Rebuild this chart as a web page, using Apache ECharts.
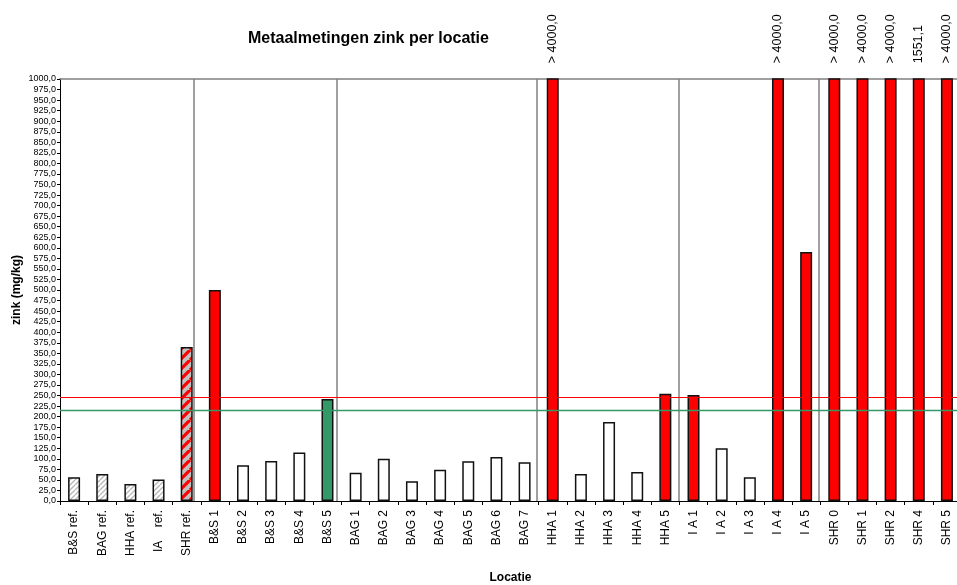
<!DOCTYPE html>
<html>
<head>
<meta charset="utf-8">
<script src="https://cdn.jsdelivr.net/npm/echarts@6/dist/echarts.min.js"></script>
<style>html,body{margin:0;padding:0;background:#fff}#c{width:957px;height:585px}</style>
</head>
<body>
<div id="c"></div>
<script>
// ---- data ----
const refCats = ['B&S ref.', 'BAG ref.', 'HHA ref.', 'IA    ref.', 'SHR ref.'];
const refVals = [56, 64, 40, 51, 365];
const bsCats = ['B&S 1', 'B&S 2', 'B&S 3', 'B&S 4', 'B&S 5'];
const bsVals = [500, 85, 95, 115, 242];
const bagCats = ['BAG 1', 'BAG 2', 'BAG 3', 'BAG 4', 'BAG 5', 'BAG 6', 'BAG 7'];
const bagVals = [67, 100, 47, 74, 94, 104, 92];
const hhaCats = ['HHA 1', 'HHA 2', 'HHA 3', 'HHA 4', 'HHA 5'];
const hhaVals = [4000, 64, 187, 69, 254];
const iaCats = ['I A 1', 'I A 2', 'I A 3', 'I A 4', 'I A 5'];
const iaVals = [251, 125, 56, 4000, 590];
const shrCats = ['SHR 0', 'SHR 1', 'SHR 2', 'SHR 4', 'SHR 5'];
const shrVals = [4000, 4000, 4000, 1551.1, 4000];
const redLimit = 245;
const greenLimit = 215;
const groupDividers = [4.76, 9.84, 16.94, 21.98, 26.95];
const yTickMax = 1000, yTickStep = 25;

const categories = [].concat(refCats, bsCats, bagCats, hhaCats, iaCats, shrCats);
const values = [].concat(refVals, bsVals, bagVals, hhaVals, iaVals, shrVals);

// ---- patterns ----
function hatch(bg, fg, size, lw) {
  const c = document.createElement('canvas');
  c.width = c.height = size;
  const ctx = c.getContext('2d');
  ctx.fillStyle = bg; ctx.fillRect(0, 0, size, size);
  ctx.strokeStyle = fg; ctx.lineWidth = lw;
  ctx.beginPath();
  [-size, 0, size].forEach(o => { ctx.moveTo(o, size); ctx.lineTo(o + size, 0); });
  ctx.stroke();
  return c;
}
const refPattern = { image: hatch('#ffffff', '#b8b8b8', 5, 1.4), repeat: 'repeat' };
const refExceedPattern = { image: hatch('#c0c0c0', '#ff0000', 10, 3.2), repeat: 'repeat' };

const fmt = v => v.toFixed(1).replace('.', ',');
const font = 'Liberation Sans, Arial, sans-serif';
const barData = values.map((v, i) => {
  const isRef = categories[i].indexOf('ref') >= 0;
  let color;
  if (isRef) color = v > redLimit ? refExceedPattern : refPattern;
  else color = v > redLimit ? '#ff0000' : (v > greenLimit ? '#339966' : '#ffffff');
  const item = { value: v, itemStyle: { color: color } };
  if (v > yTickMax) {
    item.label = {
      show: true, position: 'top', rotate: 90, align: 'left', verticalAlign: 'middle',
      distance: 15, fontSize: 12.5, color: '#000', fontFamily: font,
      formatter: () => (v >= 4000 ? '> ' : '') + fmt(v)
    };
  }
  return item;
});

const chart = echarts.init(document.getElementById('c'), null, { renderer: 'canvas' });
chart.setOption({
  animation: false,
  backgroundColor: '#ffffff',
  title: {
    text: 'Metaalmetingen zink per locatie',
    left: 243, top: 26,
    textStyle: { fontSize: 16, fontWeight: 'bold', color: '#000', fontFamily: font }
  },
  grid: { left: 60, top: 79, width: 901, height: 422, outerBoundsMode: 'none', containLabel: false },
  xAxis: [{
    type: 'category',
    data: categories,
    boundaryGap: true,
    name: 'Locatie',
    nameLocation: 'middle',
    nameGap: 71,
    nameMoveOverlap: false,
    nameTextStyle: { fontSize: 12, fontWeight: 'bold', color: '#000', fontFamily: font },
    axisLine: { lineStyle: { color: '#000', width: 1 } },
    axisTick: { show: true, length: 4, inside: false, alignWithLabel: false, lineStyle: { color: '#000' } },
    axisLabel: { rotate: 90, interval: 0, fontSize: 12, color: '#000', margin: 9, fontFamily: font },
    splitLine: { show: false }
  }, {
    type: 'value',
    position: 'top',
    min: 0, max: categories.length,
    axisLine: { show: true, onZero: false, lineStyle: { color: '#808080', width: 1.5 } },
    axisTick: { show: false },
    axisLabel: { show: false },
    splitLine: { show: false }
  }],
  yAxis: {
    type: 'value',
    min: 0, max: yTickMax, interval: yTickStep,
    name: 'zink (mg/kg)',
    nameLocation: 'middle',
    nameGap: 37,
    nameMoveOverlap: false,
    nameTextStyle: { fontSize: 12, fontWeight: 'bold', color: '#000', fontFamily: font },
    axisLine: { show: true, lineStyle: { color: '#000', width: 1 } },
    axisTick: { show: true, length: 3, lineStyle: { color: '#000' } },
    axisLabel: { fontSize: 9, color: '#000', margin: 4, fontFamily: font, formatter: v => fmt(v) },
    splitLine: { show: false }
  },
  series: [{
    type: 'bar',
    xAxisIndex: 0,
    data: barData,
    barWidth: 12,
    clip: true,
    itemStyle: { borderColor: '#111', borderWidth: 1.5 },
    markLine: {
      silent: true, symbol: 'none', label: { show: false }, z: 10,
      lineStyle: { color: '#ff0000', width: 1.2, type: 'solid' },
      data: [
        { yAxis: redLimit, lineStyle: { color: '#ff0000', width: 1.2, type: 'solid' } },
        { yAxis: greenLimit, lineStyle: { color: '#339966', width: 1.3, type: 'solid' } }
      ]
    }
  }, {
    type: 'line',
    xAxisIndex: 1,
    data: [],
    markLine: {
      silent: true, symbol: 'none', label: { show: false },
      lineStyle: { color: '#808080', width: 1.5, type: 'solid' },
      data: groupDividers.map(x => ({ xAxis: x }))
    }
  }]
});
</script>
</body>
</html>
